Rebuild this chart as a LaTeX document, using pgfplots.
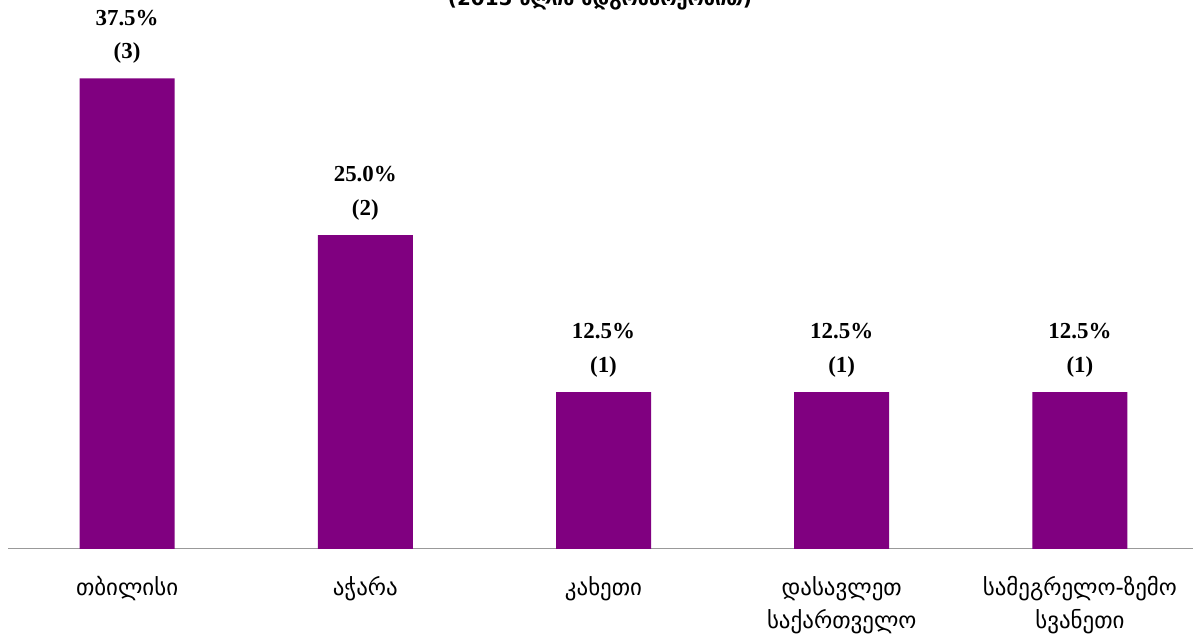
\documentclass[border=0pt]{standalone}
\usepackage{pgfplots}
\pgfplotsset{compat=1.18}
\usepackage{fontspec}
\setmainfont{Liberation Serif}
\newfontfamily\geo{DejaVu Sans}
\definecolor{barpurple}{HTML}{800080}
\begin{document}
\begin{tikzpicture}[x=1bp,y=1bp]
\useasboundingbox (0,0) rectangle (1193,640);
\node[anchor=base, font=\geo\bfseries\fontsize{20}{24}\selectfont] at (600,634) {(2015 წლის მდგომარეობით)};
\begin{axis}[
  at={(8bp,91bp)}, anchor=south west, scale only axis,
  width=1185bp, height=502bp,
  xmin=-0.5, xmax=4.475, ymin=0, ymax=40,
  separate axis lines,
  axis x line*=bottom, axis y line=none,
  x axis line style={draw=gray!80, line width=1pt},
  xtick=data, major tick length=0pt,
  xticklabels={თბილისი, აჭარა, კახეთი, {დასავლეთ\\საქართველო}, {სამეგრელო-ზემო\\სვანეთი}},
  xticklabel style={font=\geo\fontsize{23}{33}\selectfont, align=center, yshift=-24bp},
  /pgf/number format/assume math mode=true,
  clip=false,
]
\addplot[ybar, bar width=95bp, fill=barpurple, draw=none,
  visualization depends on={value \thisrow{n} \as \cnt},
  nodes near coords={\pgfmathprintnumber[fixed,fixed zerofill,precision=1,assume math mode=true]{\pgfplotspointmeta}\%\\(\cnt)},
  nodes near coords style={font=\bfseries\fontsize{23}{34}\selectfont, align=center, anchor=south, yshift=11bp, text=black},
] table {
x y n
0 37.5 3
1 25.0 2
2 12.5 1
3 12.5 1
4 12.5 1
};
\end{axis}
\end{tikzpicture}
\end{document}
